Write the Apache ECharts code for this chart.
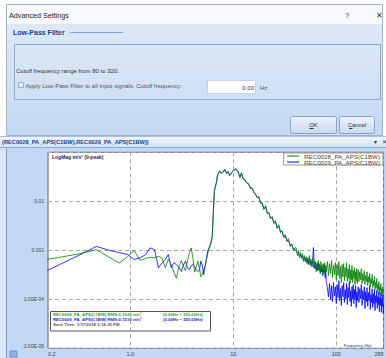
<!DOCTYPE html>
<html><head><meta charset="utf-8">
<script src="https://cdn.jsdelivr.net/npm/echarts@6/dist/echarts.min.js"></script>
<style>html,body{margin:0;padding:0;background:#fff;}#c{width:386px;height:358px;}</style>
</head><body><div id="c"></div><script>
// ---- data ----
const freqs = [
 0.156,0.313,0.469,0.625,0.781,0.938,1.09,1.25,1.41,1.56,1.72,1.88,2.03,2.19,2.34,2.5,2.66,2.81,2.97,3.13,
 3.28,3.44,3.59,3.75,3.91,4.06,4.22,4.38,4.53,4.69,4.84,5.0,5.16,5.31,5.47,5.63,5.78,5.94,6.09,6.25,
 6.41,6.56,6.72,6.88,7.03,7.19,7.34,7.66,7.97,8.28,8.59,8.91,9.22,9.53,9.84,10.2,10.6,11.1,11.6,12.0,
 12.5,13.0,13.5,14.1,14.7,15.2,15.8,16.4,17.0,17.7,18.4,19.1,19.8,20.6,21.4,22.2,23.0,23.9,24.8,25.7,
 26.7,27.7,28.7,29.8,30.9,32.0,33.2,34.4,35.7,37.0,38.4,39.8,
 41,42,43,44,45,46,47,48,49,50,51,52,53,54,55,56,57,58,59,60,61,62,63,64,65,66,67,68,69,70,71,72,73,74,75,76,77,78,79,80,
 82,84,86,88,90,92,94,96,98,100,102,104,106,108,110,112,114,116,118,120,122,124,126,128,130,132,134,136,138,140,142,144,146,148,150,152,154,156,158,160,
 163,166,169,172,175,178,181,184,187,190,193,196,199,202,205,208,211,214,217,220,223,226,229,232,235,238,241,244,247,250,253,256,259,262,265,268,271,274,277,280,283,286,288
];
const rec0028 = [
 6.5e-4,8.4e-4,1.03e-3,7.2e-4,5.5e-4,7.4e-4,9.9e-4,6.2e-4,6.8e-4,7.2e-4,7.0e-4,7.55e-4,7.0e-4,4.4e-4,6.5e-4,5.1e-4,3.5e-4,2.7e-4,4.7e-4,6.2e-4,
 4.7e-4,3.85e-4,6.0e-4,8.9e-4,1.12e-3,6.8e-4,3.6e-4,4.7e-4,6.0e-4,4.4e-4,2.9e-4,3.2e-4,4.0e-4,4.7e-4,6.0e-4,8.2e-4,1.03e-3,1.21e-3,1.53e-3,1.93e-3,
 6.17e-3,1.73e-2,2.0e-2,2.52e-2,3.51e-2,3.67e-2,4.23e-2,3.67e-2,4.04e-2,4.54e-2,3.67e-2,4.13e-2,3.34e-2,3.67e-2,4.04e-2,4.44e-2,4.65e-2,4.04e-2,3.05e-2,3.85e-2,
 2.84e-2,2.77e-2,2.35e-2,2.3e-2,1.82e-2,1.9e-2,1.51e-2,1.44e-2,1.19e-2,1.25e-2,8.98e-3,9.4e-3,6.77e-3,8.17e-3,5.61e-3,5.88e-3,4.44e-3,4.88e-3,3.51e-3,4.04e-3,
 2.77e-3,3.35e-3,2.3e-3,2.52e-3,1.82e-3,2.09e-3,1.51e-3,1.73e-3,1.19e-3,1.37e-3,9.9e-4,1.14e-3,
 1.09e-3,7.8e-4,9.9e-4,7.1e-4,9.0e-4,6.8e-4,8.6e-4,5.9e-4,7.8e-4,6.2e-4,7.4e-4,5.35e-4,7.1e-4,5.6e-4,7.8e-4,4.9e-4,6.5e-4,5.1e-4,6.8e-4,4.45e-4,
 6.2e-4,4.65e-4,5.9e-4,3.65e-4,5.6e-4,4.2e-4,6.2e-4,3.85e-4,5.35e-4,3.5e-4,5.9e-4,4.0e-4,5.1e-4,3.2e-4,5.35e-4,3.85e-4,5.6e-4,3.35e-4,4.9e-4,3.65e-4,
 5.9e-4,3.05e-4,5.35e-4,3.35e-4,6.2e-4,2.75e-4,4.9e-4,3.2e-4,5.6e-4,2.5e-4,5.1e-4,3.05e-4,5.9e-4,2.65e-4,4.65e-4,2.2e-4,5.1e-4,2.9e-4,5.35e-4,2.4e-4,
 4.45e-4,2.9e-4,5.6e-4,2.3e-4,4.2e-4,2.65e-4,5.1e-4,2.1e-4,4.0e-4,2.5e-4,4.9e-4,2.2e-4,3.85e-4,2.65e-4,4.45e-4,2.0e-4,3.65e-4,2.4e-4,4.2e-4,2.1e-4,
 4.0e-4,2.3e-4,3.65e-4,2.5e-4,4.2e-4,2.1e-4,3.35e-4,2.4e-4,3.85e-4,2.0e-4,3.05e-4,2.3e-4,3.65e-4,1.9e-4,2.9e-4,2.2e-4,3.35e-4,1.8e-4,2.65e-4,2.1e-4,
 3.2e-4,1.73e-4,2.4e-4,1.9e-4,2.9e-4,1.58e-4,2.2e-4,1.73e-4,2.65e-4,1.43e-4,2.0e-4,1.58e-4,2.3e-4,1.3e-4,1.8e-4,1.5e-4,2.1e-4,1.18e-4,1.65e-4,1.3e-4,
 1.8e-4,1.08e-4,1.18e-4
];
const rec0029 = [
 3.86e-4,7.8e-4,1.2e-3,1.0e-3,9.0e-4,8.2e-4,6.5e-4,7.0e-4,8.2e-4,1.12e-3,1.03e-3,4.4e-4,5.5e-4,6.5e-4,8.2e-4,4.4e-4,5.6e-4,5.1e-4,4.5e-4,3.7e-4,
 5.0e-4,6.0e-4,4.4e-4,4.0e-4,4.9e-4,5.1e-4,4.6e-4,3.9e-4,3.7e-4,3.9e-4,6.0e-4,5.0e-4,3.2e-4,4.5e-4,6.5e-4,9.5e-4,1.1e-3,1.25e-3,1.4e-3,1.9e-3,
 6.0e-3,1.6e-2,2.1e-2,2.4e-2,3.3e-2,3.8e-2,4.0e-2,3.8e-2,3.9e-2,4.4e-2,3.8e-2,4.0e-2,3.4e-2,3.6e-2,4.1e-2,4.3e-2,4.5e-2,4.1e-2,3.1e-2,3.7e-2,
 2.9e-2,2.7e-2,2.4e-2,2.2e-2,1.85e-2,1.85e-2,1.55e-2,1.4e-2,1.2e-2,1.2e-2,9.2e-3,9.0e-3,7.0e-3,7.8e-3,5.8e-3,5.6e-3,4.6e-3,4.6e-3,3.6e-3,3.8e-3,
 2.9e-3,3.1e-3,2.4e-3,2.4e-3,1.9e-3,1.95e-3,1.55e-3,1.6e-3,1.25e-3,1.3e-3,1.05e-3,1.05e-3,
 9.4e-4,8.6e-4,9.0e-4,7.4e-4,8.2e-4,7.1e-4,7.8e-4,6.5e-4,7.1e-4,5.9e-4,6.8e-4,5.6e-4,6.5e-4,5.1e-4,6.8e-4,5.35e-4,5.9e-4,4.65e-4,6.2e-4,1.14e-3,
 5.35e-4,4.2e-4,5.6e-4,4.0e-4,5.1e-4,3.85e-4,5.35e-4,4.0e-4,4.9e-4,3.35e-4,4.65e-4,3.65e-4,4.45e-4,3.05e-4,4.0e-4,3.5e-4,4.9e-4,2.75e-4,4.0e-4,2.3e-4,
 1.73e-4,1.13e-4,2.1e-4,9.9e-5,1.9e-4,9.0e-5,2.2e-4,1.18e-4,1.8e-4,8.2e-5,2.0e-4,1.08e-4,2.4e-4,9.4e-5,1.65e-4,7.5e-5,1.9e-4,1.13e-4,2.2e-4,8.6e-5,
 1.58e-4,1.03e-4,2.1e-4,7.8e-5,1.73e-4,1.08e-4,2.3e-4,9.0e-5,1.5e-4,7.2e-5,1.8e-4,1.03e-4,2.0e-4,8.2e-5,1.58e-4,9.9e-5,1.9e-4,6.8e-5,1.43e-4,9.4e-5,
 1.8e-4,8.6e-5,1.65e-4,1.03e-4,2.0e-4,7.5e-5,1.5e-4,9.9e-5,1.8e-4,6.5e-5,1.43e-4,9.0e-5,1.73e-4,7.2e-5,1.37e-4,9.4e-5,1.9e-4,6.2e-5,1.25e-4,8.6e-5,
 1.65e-4,6.8e-5,1.3e-4,8.2e-5,1.58e-4,5.9e-5,1.18e-4,8.6e-5,1.5e-4,6.5e-5,1.13e-4,7.8e-5,1.43e-4,5.6e-5,1.08e-4,7.5e-5,1.37e-4,5.4e-5,1.03e-4,7.2e-5,
 1.25e-4,5.1e-5,7.8e-5
];
const seriesNames = ['REC0028_PA_APS(C1BW)', 'REC0029_PA_APS(C1BW)'];
const xTickValues = [0.159, 1, 10, 100, 288];
const xTickLabels = ['0.2', '1.0', '10', '100', '288'];
const yTickValues = [1e-5, 1e-4, 1e-3, 1e-2, 1e-1];
const yTickLabels = ['1.00E-05', '1.00E-04', '0.001', '0.01', ''];
const infoLines = [
  ['REC0028_PA_APS(C1BW) RMS:0.1520 m/s\u00b2', '(0.00Hz ~ 320.00Hz)'],
  ['REC0029_PA_APS(C1BW) RMS:0.1519 m/s\u00b2', '(0.00Hz ~ 320.00Hz)'],
  ['Save Time: 1/17/2018 2:14:35 PM', '']
];

// ---- presentation ----
const FF = '"Liberation Sans", Arial, sans-serif';
function pickLabel(v, vals, labels) {
  let best = 0, bd = Infinity;
  for (let i = 0; i < vals.length; i++) {
    const d = Math.abs(Math.log10(v) - Math.log10(vals[i]));
    if (d < bd) { bd = d; best = i; }
  }
  return bd < 0.05 ? labels[best] : '';
}
function T(x, y, s, size, fill, o) {
  o = o || {};
  return {
    type: 'text', x: x, y: y, z: o.z || 0,
    style: {
      text: s, fill: fill, fontSize: size, fontFamily: FF, fontWeight: o.bold ? 'bold' : 'normal',
      align: o.align || 'left', textAlign: o.align || 'left',
      verticalAlign: 'middle', textVerticalAlign: 'middle'
    }
  };
}
function R(x, y, w, h, fill, stroke, o) {
  o = o || {};
  return { type: 'rect', z: o.z || 0, shape: { x: x, y: y, width: w, height: h, r: o.r || 0 },
    style: { fill: fill, stroke: stroke || null, lineWidth: 1 } };
}
function L(x1, y1, x2, y2, color) {
  return { type: 'line', shape: { x1: x1, y1: y1, x2: x2, y2: y2 }, style: { stroke: color, lineWidth: 1 } };
}
function vgrad(a, b) {
  return { type: 'linear', x: 0, y: 0, x2: 0, y2: 1, colorStops: [{ offset: 0, color: a }, { offset: 1, color: b }] };
}

const elements = [
  // dialog
  R(0, 0, 386, 136, '#ffffff'),
  R(6.5, 4.5, 376, 131, '#f7f9fc', '#9fb3cc'),
  T(9, 15, 'Advanced Settings', 7.2, '#222'),
  T(345, 15, '?', 7.5, '#333'),
  T(376, 15, '\u2715', 7.5, '#333'),
  R(7, 24, 375, 111, vgrad('#dde9f9', '#c4d8f2')),
  T(13, 32.5, 'Low-Pass Filter', 7, '#15428b', { bold: true }),
  L(70, 32.5, 123, 32.5, '#7ea3d8'),
  R(14.5, 44.5, 366, 55, 'rgba(255,255,255,0.08)', '#8ea9c9'),
  T(16, 70.5, 'Cutoff frequency range from 80 to 320.', 6, '#333'),
  R(18.5, 82.5, 5, 5, '#e9eef5', '#a3b0c0'),
  T(25.5, 85.5, 'Apply Low-Pass Filter to all input signals. Cutoff frequency:', 6, '#555'),
  R(207.5, 80.5, 48, 13, '#ffffff', '#c6d3e4'),
  T(254, 87.5, '0.00', 6, '#333', { align: 'right' }),
  T(260, 87.5, 'Hz', 6, '#555'),
  R(290.5, 116.5, 46, 17, vgrad('#eef4fc', '#c7daf2'), '#8aa5c9', { r: 2 }),
  T(313.5, 125, 'OK', 6, '#333', { align: 'center' }),
  L(309.5, 128.5, 313.5, 128.5, '#333'),
  R(339.5, 116.5, 35, 17, vgrad('#eef4fc', '#c7daf2'), '#8aa5c9', { r: 2 }),
  T(357, 125, 'Cancel', 6, '#333', { align: 'center' }),
  L(349, 128.5, 352.5, 128.5, '#333'),
  // chart window header
  R(0, 136, 386, 12, vgrad('#f3f7fd', '#cfe0f6')),
  L(0, 136.5, 386, 136.5, '#a9c0de'),
  L(0, 147.5, 386, 147.5, '#8eabd2'),
  T(2, 142, '(REC0028_PA_APS(C1BW),REC0029_PA_APS(C1BW))', 5.7, '#15428b', { bold: true }),
  T(375, 142, '\u25be', 6, '#333', { align: 'center' }),
  T(384, 142, '\u2715', 5.5, '#333', { align: 'center' }),
  // chart body edge
  R(0, 148, 6, 210, '#d9e6f7'),
  L(6.5, 148, 6.5, 358, '#7f9fca'),
  R(10, 351, 7, 6, '#8fb3df', '#6d93c6'),
  // info box
  R(50.5, 311.5, 160, 19.5, '#ffffff', '#555'),
  T(53, 314, infoLines[0][0], 4.3, '#2aa52a', { bold: true }),
  T(163, 314, infoLines[0][1], 4.3, '#2aa52a', { bold: true }),
  T(53, 319.3, infoLines[1][0], 4.3, '#2323e6', { bold: true }),
  T(163, 319.3, infoLines[1][1], 4.3, '#2323e6', { bold: true }),
  T(53, 324.6, infoLines[2][0], 4.3, '#555', { bold: true })
];

const chart = echarts.init(document.getElementById('c'), null, { renderer: 'svg' });
chart.setOption({
  backgroundColor: '#c2d8f5',
  animation: false,
  textStyle: { fontFamily: FF },
  grid: {
    left: 48, top: 152.3, width: 335.6, height: 196, outerBoundsMode: 'none',
    show: true, backgroundColor: '#ffffff', borderColor: '#6b6b6b', borderWidth: 1
  },
  legend: {
    data: seriesNames, orient: 'vertical', right: 3, top: 153,
    backgroundColor: '#ffffff', borderColor: '#9a9a9a', borderWidth: 1,
    padding: [0, 3, 0, 3], itemGap: 0, itemWidth: 12, itemHeight: 1,
    itemStyle: { opacity: 0 },
    lineStyle: { width: 1 },
    textStyle: { fontSize: 6.2, color: '#444', fontFamily: FF }
  },
  xAxis: {
    type: 'log', logBase: 10, min: xTickValues[0], max: xTickValues[xTickValues.length - 1],
    name: 'Frequency (Hz)', nameLocation: 'end', nameGap: -12,
    nameTextStyle: { fontSize: 4, color: '#1a2f7a', align: 'right', verticalAlign: 'bottom', padding: [0, 0, 1, 0] },
    axisLine: { show: false }, axisTick: { show: false },
    axisLabel: {
      fontSize: 5.5, color: '#444', margin: 2.5, showMinLabel: true, showMaxLabel: true,
      alignMinLabel: 'left', alignMaxLabel: 'right',
      formatter: v => pickLabel(v, xTickValues, xTickLabels)
    },
    splitLine: { show: true, lineStyle: { color: '#a8a8a8', type: [4, 3], width: 1 } }
  },
  yAxis: {
    type: 'log', logBase: 10, min: yTickValues[0], max: yTickValues[yTickValues.length - 1],
    name: 'LogMag m/s\u00b2 (0-peak)', nameLocation: 'end', nameGap: -5,
    nameTextStyle: { fontSize: 5, color: '#1a2a5a', fontWeight: 'bold', align: 'left', verticalAlign: 'middle', padding: [0, 0, 0, 4] },
    axisLine: { show: false }, axisTick: { show: false },
    axisLabel: {
      fontSize: 5, color: '#444', margin: 4, showMinLabel: true,
      verticalAlignMinLabel: 'bottom',
      formatter: v => pickLabel(v, yTickValues, yTickLabels)
    },
    splitLine: { show: true, lineStyle: { color: '#a8a8a8', type: [4, 3], width: 1 } }
  },
  graphic: { elements: elements },
  series: [
    {
      name: seriesNames[1], type: 'line', symbol: 'none', z: 2,
      lineStyle: { color: '#0000ff', width: 0.8 }, itemStyle: { color: '#0000ff' },
      data: freqs.map((f, i) => [f, rec0029[i]])
    },
    {
      name: seriesNames[0], type: 'line', symbol: 'none', z: 3,
      lineStyle: { color: '#008000', width: 0.8 }, itemStyle: { color: '#008000' },
      data: freqs.map((f, i) => [f, rec0028[i]])
    }
  ]
});
</script></body></html>
